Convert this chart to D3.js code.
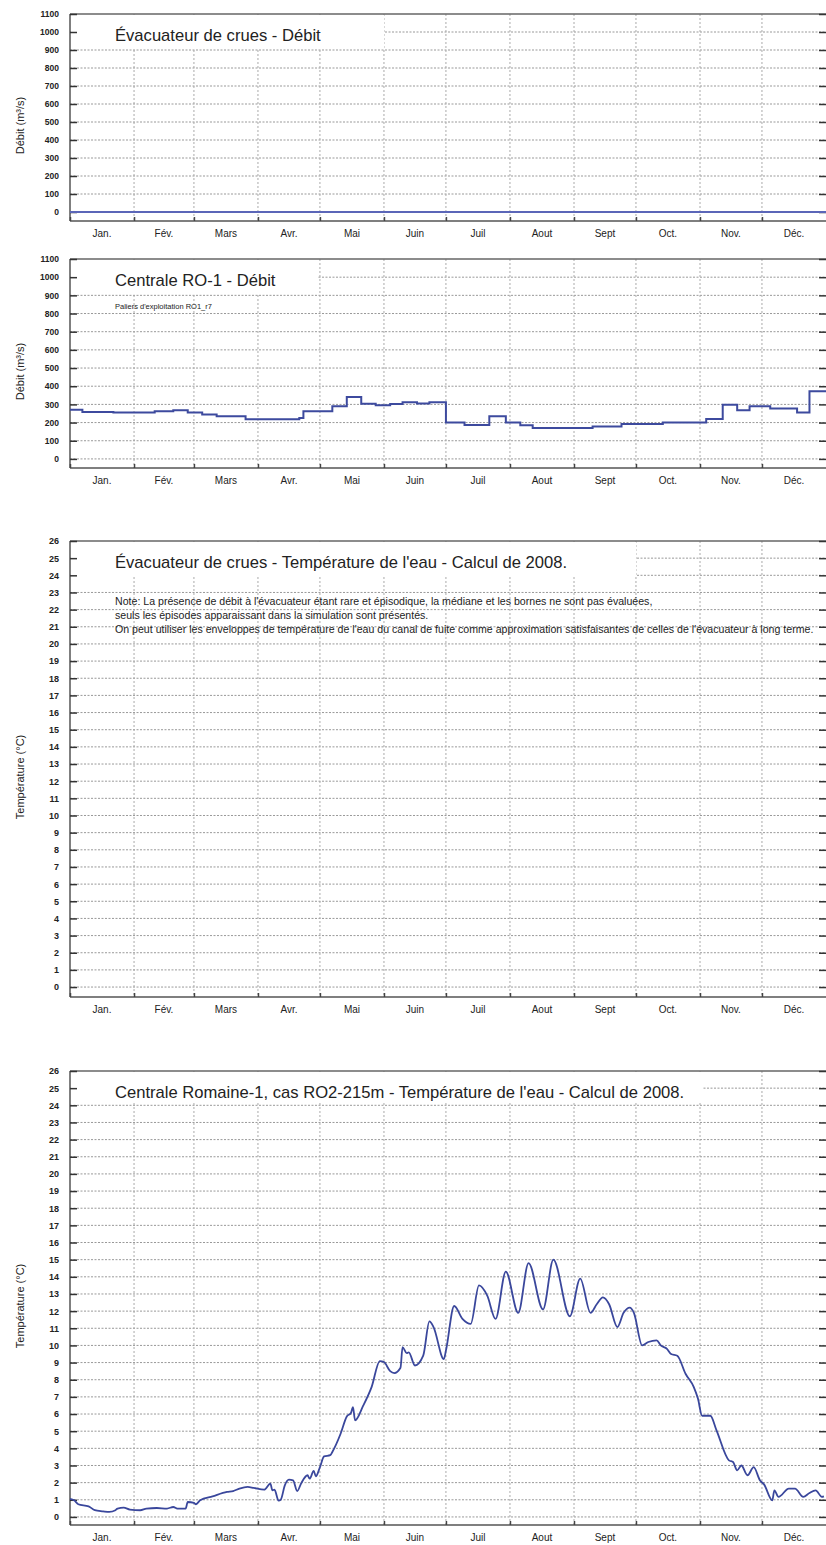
<!DOCTYPE html>
<html><head><meta charset="utf-8">
<script src="https://cdn.jsdelivr.net/npm/d3@7"></script>
<style>
body{margin:0;background:#fff;}
text{font-family:"Liberation Sans",Arial,sans-serif;fill:#222;}
</style></head>
<body><svg id="c" width="826" height="1545"></svg>
<script>
// ---------- data ----------
const monthLabels = ["Jan.","Fév.","Mars","Avr.","Mai","Juin","Juil","Aout","Sept","Oct.","Nov.","Déc."];
const flowTicks = [0,100,200,300,400,500,600,700,800,900,1000,1100];
const tempTicks = d3.range(0,27);

// Panel 1: spillway flow (m3/s), day-of-year
const spillDays = [0, 366];
const spillValues = [0, 0];

// Panel 2: RO-1 plant flow (step), day-of-year where each level starts
const plantDays = [0,6,21,41,50,57,64,71,85,111,113,127,134,141,148,155,161,168,174,182,191,203,211,218,224,253,267,287,308,316,323,329,339,352,358,366];
const plantValues = [270,258,255,262,268,255,245,235,218,225,262,290,340,303,295,302,312,305,312,200,187,235,200,185,170,178,192,200,220,298,268,290,278,255,372,372];

// Panel 4: water temperature (°C), day-of-year
const tempDays = [0,2,4,9,12,16,19,22,23,26,29,34,37,42,47,50,52,56,57,60,61,63,69,76,79,82,86,89,94,97,98,99,101,102,104,106,108,110,112,115,116,118,119,121,123,126,127,131,134,136,137,138,142,146,150,152,155,157,160,161,163,164,167,171,174,176,181,182,186,190,194,198,202,206,211,217,222,229,234,242,247,252,255,258,261,265,268,271,273,277,280,284,286,289,291,294,298,302,304,306,310,313,319,321,323,325,328,331,334,336,340,341,343,348,351,355,358,361,364,365];
const tempValues = [1.05,0.97,0.74,0.62,0.40,0.33,0.29,0.39,0.49,0.54,0.43,0.39,0.49,0.52,0.49,0.58,0.49,0.49,0.87,0.82,0.74,0.97,1.20,1.46,1.51,1.65,1.75,1.69,1.59,1.94,1.55,1.59,0.95,1.0,1.84,2.17,2.13,1.51,1.98,2.43,2.23,2.68,2.37,2.9,3.53,3.6,3.79,4.85,5.86,6.06,6.4,5.63,6.5,7.57,9.09,9.03,8.5,8.39,8.7,9.9,9.55,9.6,8.83,9.4,11.4,11.07,9.2,9.7,12.3,11.55,11.26,13.5,12.9,11.55,14.3,11.9,14.8,12.1,15.0,11.7,13.9,11.9,12.4,12.8,12.4,11.07,11.9,12.2,11.9,10.0,10.2,10.3,10.0,9.8,9.5,9.4,8.35,7.57,6.9,5.9,5.9,5.05,3.3,3.2,2.72,3.0,2.43,2.9,2.14,1.9,0.97,1.55,1.17,1.65,1.65,1.17,1.4,1.55,1.17,1.2];

const titles = [
  "Évacuateur de crues - Débit",
  "Centrale RO-1 - Débit",
  "Évacuateur de crues - Température de l'eau - Calcul de 2008.",
  "Centrale Romaine-1, cas RO2-215m - Température de l'eau - Calcul de 2008."
];
const subtitle2 = "Paliers d'exploitation RO1_r7";
const notes3 = [
  "Note: La présence de débit à l'évacuateur étant rare et épisodique, la médiane et les bornes ne sont pas évaluées,",
  "seuls les épisodes apparaissant dans la simulation sont présentés.",
  "On peut utiliser les enveloppes de température de l'eau du canal de fuite comme approximation satisfaisantes de celles de l'évacuateur à long terme."
];

// ---------- layout ----------
const svg = d3.select("#c");
const X0 = 70, X1 = 826;
const t0 = new Date(2008,0,1), t1 = new Date(2009,0,1);
const x = d3.scaleTime().domain([t0,t1]).range([X0,X1]);
const dayDate = d => d3.timeDay.offset(t0, d);
const months = d3.timeMonth.range(t0, t1);

const panels = [
  {top:14, bottom:221, dom:[-50,1100], ticks:flowTicks, ylabel:"Débit (m³/s)", box:[384,48], lc:"#5b66b8"},
  {top:259, bottom:468, dom:[-50,1100], ticks:flowTicks, ylabel:"Débit (m³/s)", box:[318,293], lc:"#3d4a9e"},
  {top:541, bottom:997, dom:[-0.58,26], ticks:tempTicks, ylabel:"Température (°C)", box:[636,576], lc:"#3d4a9e"},
  {top:1071, bottom:1525, dom:[-0.47,26], ticks:tempTicks, ylabel:"Température (°C)", box:[702,1103], lc:"#3a479c"}
];

panels.forEach((p,i)=>{
  const y = d3.scaleLinear().domain(p.dom).range([p.bottom,p.top]);
  p.y = y;
  const g = svg.append("g");
  // horizontal grid
  g.selectAll(".hg").data(p.ticks.filter(t=>y(t)>p.top+1)).join("line")
    .attr("x1",X0).attr("x2",X1).attr("y1",d=>y(d)).attr("y2",d=>y(d))
    .attr("stroke","#999").attr("stroke-width",1).attr("stroke-dasharray","2,1.5");
  // vertical grid
  g.selectAll(".vg").data(months.slice(1)).join("line")
    .attr("x1",d=>x(d)).attr("x2",d=>x(d)).attr("y1",p.top).attr("y2",p.bottom)
    .attr("stroke","#aaa").attr("stroke-width",1).attr("stroke-dasharray","2,2");
  // title background box
  g.append("rect").attr("x",X0+1).attr("y",p.top+1).attr("width",p.box[0]-X0-1).attr("height",p.box[1]-p.top-1).attr("fill","#fff");
  // frame
  g.append("line").attr("x1",X0).attr("x2",X1).attr("y1",p.top).attr("y2",p.top).attr("stroke","#666").attr("stroke-width",1.5);
  g.append("line").attr("x1",X0).attr("x2",X1).attr("y1",p.bottom).attr("y2",p.bottom).attr("stroke","#555").attr("stroke-width",1.5);
  g.append("line").attr("x1",X0).attr("x2",X0).attr("y1",p.top).attr("y2",p.bottom).attr("stroke","#555").attr("stroke-width",1.5);
  // left axis ticks (inward) and labels
  const ya = d3.axisRight(y).tickValues(p.ticks).tickSize(7).tickFormat(d3.format("d"));
  const ag = g.append("g").attr("transform",`translate(${X0},0)`).call(ya);
  ag.select(".domain").remove();
  ag.selectAll(".tick line").attr("stroke","#333").attr("stroke-width",1.5);
  ag.selectAll(".tick text").attr("x",-11).attr("text-anchor","end")
    .style("font-size", i<2 ? "8.5px" : "9px").style("font-weight","bold").attr("fill","#444");
  // right ticks
  const ra = d3.axisLeft(y).tickValues(p.ticks).tickSize(7).tickFormat("");
  const rg = g.append("g").attr("transform",`translate(${X1},0)`).call(ra);
  rg.select(".domain").remove();
  rg.selectAll(".tick line").attr("stroke","#333").attr("stroke-width",1.5);
  // bottom month ticks
  const xa = d3.axisTop(x).tickValues(months).tickSize(4).tickFormat("");
  const xg = g.append("g").attr("transform",`translate(0,${p.bottom})`).call(xa);
  xg.select(".domain").remove();
  xg.selectAll(".tick line").attr("stroke","#444").attr("stroke-width",1.5);
  // month labels centred
  g.selectAll(".ml").data(months).join("text")
    .attr("x",(d,k)=> (x(d) + x(k<11?months[k+1]:t1))/2)
    .attr("y",p.bottom+16).attr("text-anchor","middle")
    .style("font-size","10px").attr("fill","#333").text((d,k)=>monthLabels[k]);
  // y label
  g.append("text").attr("transform",`translate(24,${(p.top+p.bottom)/2+8}) rotate(-90)`)
    .attr("text-anchor","middle").style("font-size","11px").attr("fill","#333").text(p.ylabel);
  // title
  g.append("text").attr("x",115).attr("y",p.top+27).style("font-size","16.6px").attr("fill","#1a1a1a").text(titles[i]);
});

// Panel 1 line
{
  const p = panels[0];
  const line = d3.line().x((d,k)=>x(dayDate(spillDays[k]))).y(d=>p.y(d));
  svg.append("path").datum(spillValues).attr("d",line).attr("fill","none").attr("stroke",p.lc).attr("stroke-width",1.8);
}
// Panel 2 step line + subtitle
{
  const p = panels[1];
  svg.append("text").attr("x",115).attr("y",p.top+50).style("font-size","7.5px").attr("fill","#222").text(subtitle2);
  const line = d3.line().curve(d3.curveStepAfter).x((d,k)=>x(dayDate(plantDays[k]))).y(d=>p.y(d));
  svg.append("path").datum(plantValues).attr("d",line).attr("fill","none").attr("stroke",p.lc).attr("stroke-width",2);
}
// Panel 3 notes
{
  const p = panels[2];
  svg.selectAll(".note").data(notes3).join("text")
    .attr("x",115).attr("y",(d,k)=>p.top+64+k*14)
    .style("font-size","10.6px").attr("fill","#222").text(d=>d);
}
// Panel 4 temperature line
{
  const p = panels[3];
  const line = d3.line().curve(d3.curveMonotoneX).x((d,k)=>x(dayDate(tempDays[k]))).y(d=>p.y(d));
  svg.append("path").datum(tempValues).attr("d",line).attr("fill","none").attr("stroke",p.lc).attr("stroke-width",1.8);
}
</script></body></html>
